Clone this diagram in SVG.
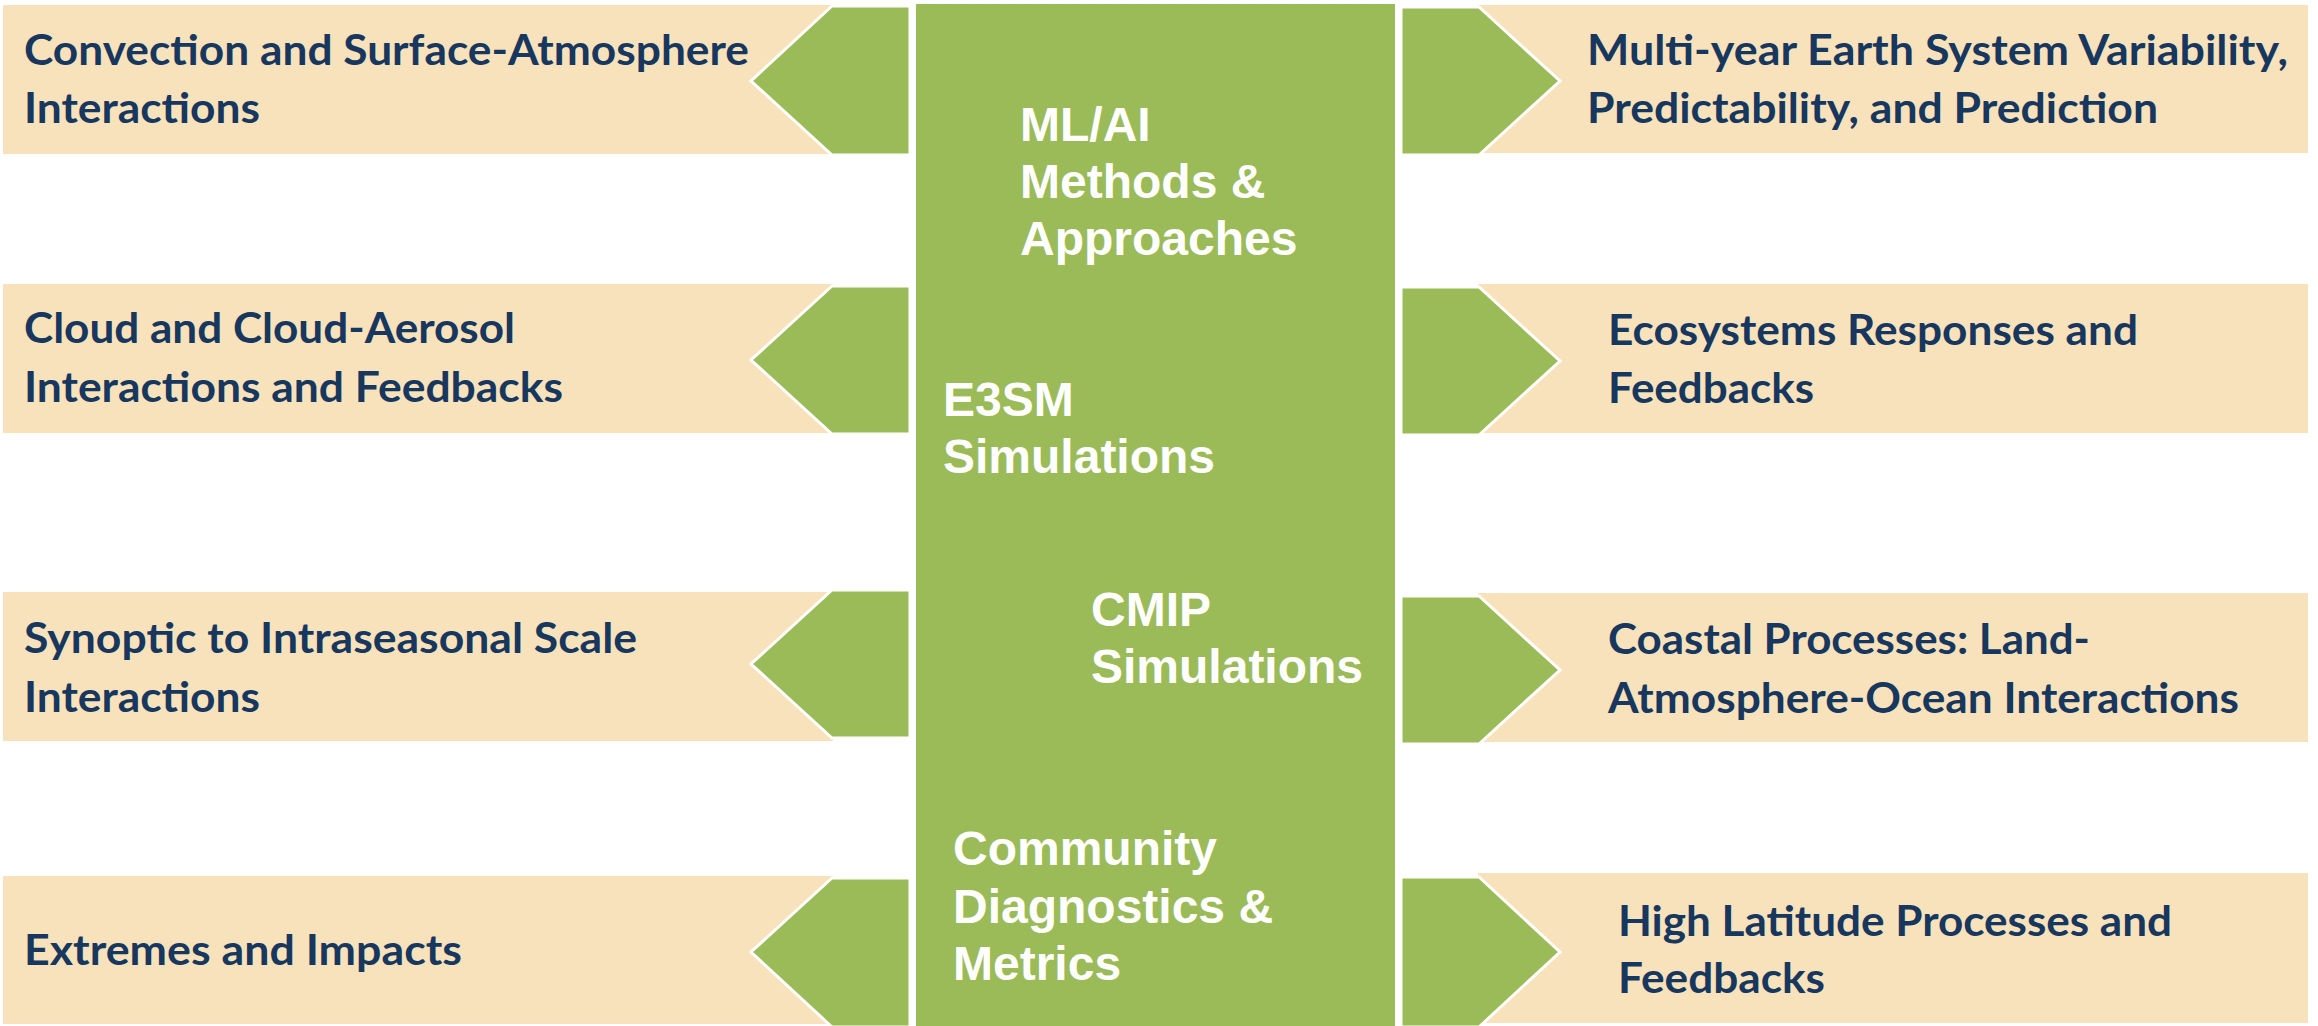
<svg xmlns="http://www.w3.org/2000/svg" width="2318" height="1026" viewBox="0 0 2318 1026">
<style>
.bg{fill:#FFFFFF}
.beige{fill:#F8E2BB}
.chev{fill:#9BBB59;stroke:#FFFFFF;stroke-width:3;stroke-linejoin:miter}
.col{fill:#9BBB59}
.t{font-family:Lato,"Open Sans","Liberation Sans",sans-serif;font-weight:700;font-size:42px;fill:#17375E}
.c{font-family:"Liberation Sans",Arial,sans-serif;font-weight:700;font-size:48px;fill:#FFFFFF}
</style>
<rect class="bg" x="0" y="0" width="2318" height="1026"/>

<g id="center">
<rect class="col" x="916" y="4" width="479" height="1022"/>
<text class="c" x="1020" y="141">ML/AI</text>
<text class="c" x="1020" y="198">Methods &amp;</text>
<text class="c" x="1020" y="255">Approaches</text>
<text class="c" x="943" y="416">E3SM</text>
<text class="c" x="943" y="473">Simulations</text>
<text class="c" x="1091" y="626">CMIP</text>
<text class="c" x="1091" y="683">Simulations</text>
<text class="c" x="953" y="865">Community</text>
<text class="c" x="953" y="923">Diagnostics &amp;</text>
<text class="c" x="953" y="980">Metrics</text>
</g>

<g id="node-convection">
<rect class="beige" x="3" y="5" width="830" height="149"/>
<text class="t" x="24" y="65" textLength="725" lengthAdjust="spacingAndGlyphs">Convection and Surface-Atmosphere</text>
<text class="t" x="24" y="123" textLength="236" lengthAdjust="spacingAndGlyphs">Interactions</text>
</g>
<g id="node-cloud">
<rect class="beige" x="3" y="284" width="830" height="149"/>
<text class="t" x="24" y="343" textLength="491" lengthAdjust="spacingAndGlyphs">Cloud and Cloud-Aerosol</text>
<text class="t" x="24" y="402" textLength="539" lengthAdjust="spacingAndGlyphs">Interactions and Feedbacks</text>
</g>
<g id="node-synoptic">
<rect class="beige" x="3" y="592" width="830" height="149"/>
<text class="t" x="24" y="653" textLength="613" lengthAdjust="spacingAndGlyphs">Synoptic to Intraseasonal Scale</text>
<text class="t" x="24" y="712" textLength="236" lengthAdjust="spacingAndGlyphs">Interactions</text>
</g>
<g id="node-extremes">
<rect class="beige" x="3" y="876" width="830" height="148"/>
<text class="t" x="24" y="965" textLength="438" lengthAdjust="spacingAndGlyphs">Extremes and Impacts</text>
</g>

<g id="node-multiyear">
<rect class="beige" x="1478" y="5" width="830" height="148"/>
<text class="t" x="1587" y="65" textLength="701" lengthAdjust="spacingAndGlyphs">Multi-year Earth System Variability,</text>
<text class="t" x="1587" y="123" textLength="571" lengthAdjust="spacingAndGlyphs">Predictability, and Prediction</text>
</g>
<g id="node-ecosystems">
<rect class="beige" x="1478" y="284" width="830" height="149"/>
<text class="t" x="1608" y="345" textLength="530" lengthAdjust="spacingAndGlyphs">Ecosystems Responses and</text>
<text class="t" x="1608" y="403" textLength="206" lengthAdjust="spacingAndGlyphs">Feedbacks</text>
</g>
<g id="node-coastal">
<rect class="beige" x="1478" y="593" width="830" height="149"/>
<text class="t" x="1608" y="654" textLength="482" lengthAdjust="spacingAndGlyphs">Coastal Processes: Land-</text>
<text class="t" x="1608" y="713" textLength="631" lengthAdjust="spacingAndGlyphs">Atmosphere-Ocean Interactions</text>
</g>
<g id="node-highlat">
<rect class="beige" x="1478" y="873" width="830" height="150"/>
<text class="t" x="1618" y="936" textLength="554" lengthAdjust="spacingAndGlyphs">High Latitude Processes and</text>
<text class="t" x="1618" y="993" textLength="207" lengthAdjust="spacingAndGlyphs">Feedbacks</text>
</g>

<g id="connectors">
<polygon class="chev" points="832,6 910,6 910,155 832,155 751,81"/>
<polygon class="chev" points="832,286 910,286 910,434 832,434 751,360"/>
<polygon class="chev" points="832,590 910,590 910,738 832,738 751,664"/>
<polygon class="chev" points="832,878 910,878 910,1027 832,1027 751,952"/>
<polygon class="chev" points="1401,7 1479,7 1560,81 1479,155 1401,155"/>
<polygon class="chev" points="1401,287 1479,287 1560,361 1479,435 1401,435"/>
<polygon class="chev" points="1401,596 1479,596 1560,670 1479,744 1401,744"/>
<polygon class="chev" points="1401,877 1479,877 1560,952 1479,1027 1401,1027"/>
</g>
</svg>
